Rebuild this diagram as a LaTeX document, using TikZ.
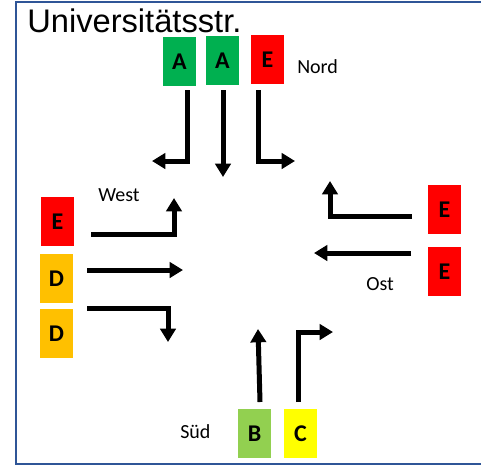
\documentclass[tikz,border=0pt]{standalone}
\usepackage{fontspec}
\setmainfont{Carlito}
\newfontfamily\titlefont{Liberation Sans}
\usetikzlibrary{arrows.meta}
\definecolor{framecol}{HTML}{2F5597}
\definecolor{agreen}{HTML}{00B050}
\definecolor{bgreen}{HTML}{92D050}
\definecolor{cyellow}{HTML}{FFFF00}
\definecolor{dorange}{HTML}{FFC000}
\definecolor{ered}{HTML}{FF0000}
\begin{document}
\begin{tikzpicture}[x=0.75pt, y=-0.75pt,
	lane/.style = {rectangle, inner sep=0pt, minimum width=24.75pt, minimum height=36.75pt, font=\fontsize{18}{18}\selectfont\bfseries},
	lbl/.style = {anchor=base west, inner sep=0pt, font=\fontsize{15}{15}\selectfont},
	turn/.style = {line width=3.75pt, -{Triangle[width=11.5pt, length=10pt]}}]
			\useasboundingbox (0,0) rectangle (481,465);
			\draw[framecol, line width=1.5pt] (482,2) -- (16,2) -- (16,464) -- (482,464);
			\node[anchor=base west, inner sep=0pt, font=\titlefont\fontsize{24.5}{24.5}\selectfont] at (27,32) (title) {Universitätsstr.};
			% Nord
			\node[lane, fill=agreen] at (179.5,61.5) (a1) {A};
			\node[lane, fill=agreen] at (222.5,60.5) (a2) {A};
			\node[lane, fill=ered] at (267.5,59.5) (en) {E};
			\node[lbl] at (297,73) (nord) {Nord};
			\coordinate (a1s) at (187,90);
			\coordinate (a1e) at (152,161);
			\coordinate (a2s) at (223,90);
			\coordinate (a2e) at (223,177);
			\coordinate (ens) at (258,90);
			\coordinate (ene) at (295,161);
			\draw[turn] (a1s) |- (a1e);
			\draw[turn] (a2s) -- (a2e);
			\draw[turn] (ens) |- (ene);
			% West
			\node[lane, fill=ered] at (57.5,221.5) (ew) {E};
			\node[lane, fill=dorange] at (56.5,278.5) (d1) {D};
			\node[lane, fill=dorange] at (56.5,333.5) (d2) {D};
			\node[lbl] at (98,201) (west) {West};
			\coordinate (ews) at (91,234);
			\coordinate (ewe) at (174,198);
			\coordinate (d1s) at (87,270);
			\coordinate (d1e) at (183,270);
			\coordinate (d2s) at (87,308);
			\coordinate (d2e) at (168,342);
			\draw[turn] (ews) -| (ewe);
			\draw[turn] (d1s) -- (d1e);
			\draw[turn] (d2s) -| (d2e);
			% Ost
			\node[lane, fill=ered] at (444.5,209.5) (eo1) {E};
			\node[lane, fill=ered] at (444.5,271.5) (eo2) {E};
			\node[lbl] at (366,290) (ost) {Ost};
			\coordinate (eo1s) at (412,216);
			\coordinate (eo1e) at (330,181);
			\coordinate (eo2s) at (411,253);
			\coordinate (eo2e) at (314,253);
			\draw[turn] (eo1s) -| (eo1e);
			\draw[turn] (eo2s) -- (eo2e);
			% Süd
			\node[lane, fill=bgreen] at (254.5,433.5) (b) {B};
			\node[lane, fill=cyellow] at (300.5,433.5) (c) {C};
			\node[lbl] at (180,438) (sued) {Süd};
			\coordinate (bs) at (260,402);
			\coordinate (be) at (258,329);
			\coordinate (cs) at (298,402);
			\coordinate (ce) at (333,332);
			\draw[turn] (bs) -- (be);
			\draw[turn] (cs) |- (ce);
		\end{tikzpicture}
\end{document}
